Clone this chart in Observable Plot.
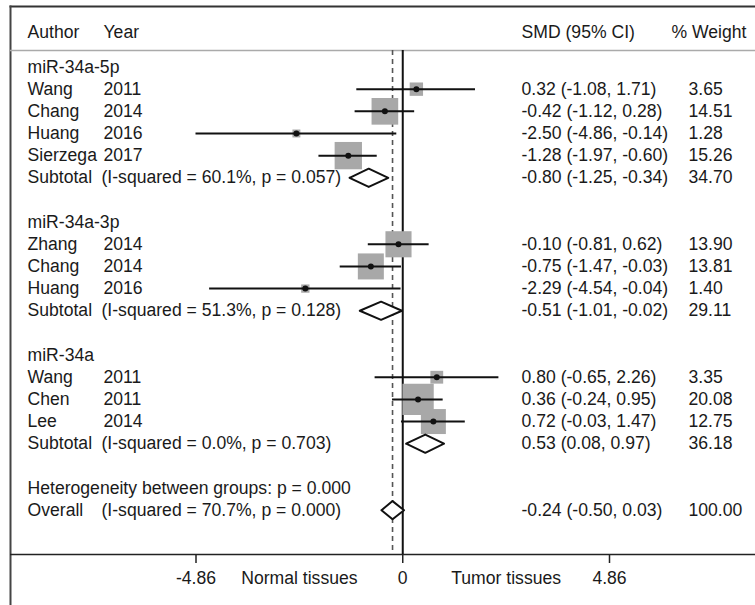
<!DOCTYPE html>
<html><head><meta charset="utf-8">
<script src="https://cdn.jsdelivr.net/npm/d3@7"></script>
<script src="https://cdn.jsdelivr.net/npm/@observablehq/plot@0.6"></script>
<style>body{margin:0;background:#fff}</style>
</head><body><div id="chart"></div>
<script>
// ---- data ----
const groups = ["miR-34a-5p", "miR-34a-3p", "miR-34a"];
const studyAuthor = ["Wang", "Chang", "Huang", "Sierzega", "Zhang", "Chang", "Huang", "Wang", "Chen", "Lee"];
const studyYear = ["2011", "2014", "2016", "2017", "2014", "2014", "2016", "2011", "2011", "2014"];
const studyGroup = [0, 0, 0, 0, 1, 1, 1, 2, 2, 2];
const studySMD = [0.32, -0.42, -2.50, -1.28, -0.10, -0.75, -2.29, 0.80, 0.36, 0.72];
const studyLo = [-1.08, -1.12, -4.86, -1.97, -0.81, -1.47, -4.54, -0.65, -0.24, -0.03];
const studyHi = [1.71, 0.28, -0.14, -0.60, 0.62, -0.03, -0.04, 2.26, 0.95, 1.47];
const studyWeight = ["3.65", "14.51", "1.28", "15.26", "13.90", "13.81", "1.40", "3.35", "20.08", "12.75"];

const subSMD = [-0.80, -0.51, 0.53];
const subLo = [-1.25, -1.01, 0.08];
const subHi = [-0.34, -0.02, 0.97];
const subWeight = ["34.70", "29.11", "36.18"];
const subI2 = ["60.1%", "51.3%", "0.0%"];
const subP = ["0.057", "0.128", "0.703"];

const overallSMD = -0.24, overallLo = -0.50, overallHi = 0.03, overallWeight = "100.00";
const overallI2 = "70.7%", overallP = "0.000";
const hetP = "0.000";

const tickValues = [-4.86, 0, 4.86];
const tickLabels = ["-4.86", "0", "4.86"];
const sideLabels = ["Normal tissues", "Tumor tissues"];
const headers = ["Author", "Year", "SMD (95% CI)", "% Weight"];

// ---- layout (row indices) ----
const fmt = v => v.toFixed(2);
const ciText = (e, l, h) => `${fmt(e)} (${fmt(l)}, ${fmt(h)})`;
const groupRows = [], studyRows = [], subRows = [];
let r = 0;
groups.forEach((g, gi) => {
  groupRows.push({row: r++, text: g});
  studyAuthor.forEach((a, i) => {
    if (studyGroup[i] !== gi) return;
    studyRows.push({row: r++, author: a, year: studyYear[i], est: studySMD[i], lo: studyLo[i], hi: studyHi[i], w: studyWeight[i]});
  });
  subRows.push({row: r++, est: subSMD[gi], lo: subLo[gi], hi: subHi[gi], w: subWeight[gi], label: "Subtotal", paren: `(I-squared = ${subI2[gi]}, p = ${subP[gi]})`});
  r++;
});
const hetRow = r++;
const overall = {row: r++, est: overallSMD, lo: overallLo, hi: overallHi, w: overallWeight, label: "Overall", paren: `(I-squared = ${overallI2}, p = ${overallP})`};
const axisRow = r + 1;
const headerRow = -1.55, headerLineRow = -0.75;
const diamonds = [...subRows, overall];
const DH = 0.41;
const diamondPts = diamonds.flatMap((d, k) => [
  {k, x: d.lo, y: d.row}, {k, x: d.est, y: d.row - DH}, {k, x: d.hi, y: d.row}, {k, x: d.est, y: d.row + DH}, {k, x: d.lo, y: d.row}
]);
const summaryRows = diamonds;

const font = "'Liberation Sans', Arial, Helvetica, sans-serif";
const FS = 17.6;
const ink = "#1a1a1a";
const txt = (data, opts) => Plot.text(data, {frameAnchor: "left", textAnchor: "start", fontSize: FS, fill: ink, ...opts});

const chart = Plot.plot({
  width: 755, height: 605,
  marginTop: 6, marginLeft: 10, marginRight: 0, marginBottom: 0,
  x: {domain: [-4.86, 4.86], range: [195.5, 609], axis: null},
  y: {domain: [0, axisRow], range: [66.5, 554], axis: null},
  r: {type: "identity"},
  style: {fontFamily: font, background: "#fff", color: ink},
  marks: [
    Plot.frame({anchor: "top", stroke: "#333", strokeWidth: 2}),
    Plot.frame({anchor: "left", stroke: "#444", strokeWidth: 2}),
    Plot.ruleY([headerLineRow], {stroke: "#aaa", strokeWidth: 1.5}),
    Plot.ruleY([axisRow], {stroke: "#222", strokeWidth: 1.5}),
    Plot.ruleX([0], {y1: headerLineRow, y2: axisRow, stroke: "#111", strokeWidth: 2}),
    Plot.ruleX([overallSMD], {y1: headerLineRow, y2: axisRow, stroke: "#555", strokeWidth: 1.6, strokeDasharray: "5,4"}),
    Plot.ruleX(tickValues, {x: d => d, y1: axisRow, y2: axisRow, insetBottom: -9, stroke: "#222", strokeWidth: 1.5}),
    Plot.text(tickValues, {x: d => d, y: axisRow, dy: 24, text: (d, i) => tickLabels[i], fontSize: FS, fill: ink}),
    Plot.text(sideLabels, {x: (d, i) => (i === 0 ? tickValues[0] + tickValues[1] : tickValues[1] + tickValues[2]) / 2, y: axisRow, dy: 24, text: d => d, fontSize: FS, fill: ink}),
    // boxes, CI lines, dots
    Plot.dot(studyRows, {x: "est", y: "row", symbol: "square", r: d => 7 * Math.sqrt(+d.w) / Math.sqrt(Math.PI), fill: "#a8a8a8", stroke: "none"}),
    Plot.ruleY(studyRows, {y: "row", x1: "lo", x2: "hi", stroke: "#111", strokeWidth: 2}),
    Plot.dot(studyRows, {x: "est", y: "row", r: 3, fill: "#111", stroke: "none"}),
    Plot.line(diamondPts, {x: "x", y: "y", z: "k", fill: "#fff", stroke: "#111", strokeWidth: 2, curve: "linear"}),
    // header
    txt([headers[0]], {y: () => headerRow, dx: 17, text: d => d}),
    txt([headers[1]], {y: () => headerRow, dx: 93, text: d => d}),
    txt([headers[2]], {y: () => headerRow, dx: 511, text: d => d}),
    txt([headers[3]], {y: () => headerRow, dx: 661, text: d => d}),
    // left columns
    txt(groupRows, {y: "row", dx: 17, text: "text"}),
    txt(studyRows, {y: "row", dx: 17, text: "author"}),
    txt(studyRows, {y: "row", dx: 93, text: "year"}),
    txt(summaryRows, {y: "row", dx: 17, text: "label"}),
    txt(summaryRows, {y: "row", dx: 91, text: "paren"}),
    txt([`Heterogeneity between groups: p = ${hetP}`], {y: () => hetRow, dx: 17, text: d => d}),
    // right columns
    txt(studyRows, {y: "row", dx: 511, text: d => ciText(d.est, d.lo, d.hi)}),
    txt(summaryRows, {y: "row", dx: 511, text: d => ciText(d.est, d.lo, d.hi)}),
    txt(studyRows, {y: "row", dx: 678, text: "w"}),
    txt(summaryRows, {y: "row", dx: 678, text: "w"})
  ]
});
document.getElementById("chart").appendChild(chart);
</script>
</body></html>
